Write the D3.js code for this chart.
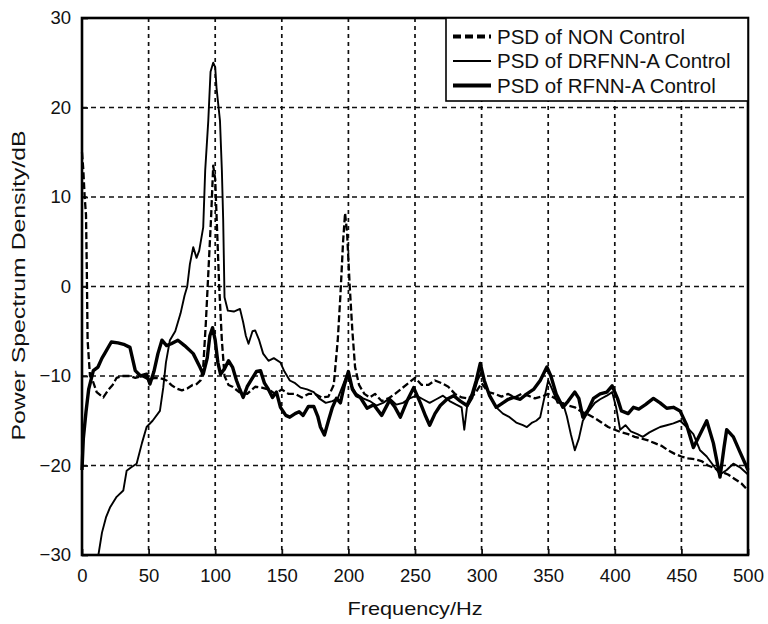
<!DOCTYPE html>
<html>
<head>
<meta charset="utf-8">
<script src="https://cdn.jsdelivr.net/npm/d3@7"></script>
<style>
	body { margin: 0; background: #fff; }
	text { font-family: "Liberation Sans", Arial, Helvetica, sans-serif; fill: #111; }
</style>
</head>
<body>
<div id="chart"></div>
<script>
// tick values
const xTicks = [0, 50, 100, 150, 200, 250, 300, 350, 400, 450, 500]
const yTicks = [-30, -20, -10, 0, 10, 20, 30]

// legend labels
const seriesNames = ['PSD of NON Control', 'PSD of DRFNN-A Control', 'PSD of RFNN-A Control']

// NON control (dashed)
const nonFreq = [0, 1, 2, 3, 3.6, 4.2, 6, 8, 11, 16, 20, 23, 26, 30, 36, 40, 45, 50, 55, 60, 63.5, 67, 71, 75, 79, 83, 86, 89, 91, 93, 95, 97, 98.5, 100, 101.5, 103, 105, 107, 110, 113, 118, 124, 130, 135, 140, 145, 150, 155, 160, 165, 170, 175, 180, 185, 189, 192, 194, 196, 197.5, 199, 201, 203, 205, 208, 212, 216, 220, 225, 230, 235, 240, 245, 250, 255, 260, 265, 270, 275, 280, 285, 290, 295, 300, 305, 310, 315, 320, 325, 330, 335, 340, 345, 350, 355, 360, 365, 370, 375, 380, 385, 390, 395, 400, 405, 410, 415, 420, 425, 430, 435, 440, 445, 450, 455, 460, 465, 470, 475, 480, 485, 490, 495, 500]
const nonPsd = [15, 13, 10, 8, 2, -6, -10, -10.5, -11.8, -12.4, -11.5, -11, -10.2, -10, -10, -10.2, -10, -10.4, -10.2, -10.3, -10.5, -11, -11.4, -11.6, -11.4, -11, -10.9, -10.5, -9, -4, 2, 8, 13.5, 12, 6, 0, -6, -10, -11, -11.2, -11.8, -12, -11.2, -11.3, -11.5, -12, -11.5, -12, -12, -12.4, -12, -12, -12.4, -12.3, -11, -6, -1, 5, 8.2, 6, 0, -5, -9, -11, -12, -12.4, -12, -12.8, -12.5, -12, -11.4, -10.8, -10.2, -11, -11, -10.5, -10.8, -11.2, -12, -12.4, -12.5, -12, -10.8, -11.8, -12, -12.3, -12, -12.4, -12, -12.2, -12.5, -12.3, -12, -12.5, -13, -13.3, -13.5, -14, -14.3, -14.7, -15.2, -15.7, -16, -16.3, -16.5, -16.8, -17, -17.2, -17.5, -17.8, -18.3, -18.7, -19, -19.2, -19.3, -19.5, -20, -20.3, -20.7, -21, -21.5, -22, -22.8]

// DRFNN-A control (thin)
const drfFreq = [12.3, 15, 18, 21, 26, 31, 33.5, 37, 41, 45, 48.5, 53, 58.5, 61, 63, 66, 70, 74, 77, 79, 81, 83.5, 86, 88, 91, 92.5, 94.8, 96.5, 98.5, 100, 101, 103.6, 105, 106, 107, 109.5, 114, 118.6, 121, 123, 125, 128, 130, 133, 136, 140, 144, 149, 152, 156, 160, 164, 169, 174, 178, 183, 188, 192, 196, 199, 202, 206, 211, 216, 221, 226, 231, 236, 241, 246, 251, 256, 261, 266, 271, 276, 281, 285, 287, 289, 293, 297, 300, 303, 307, 311, 316, 321, 326, 331, 334, 338, 341, 344, 347, 350, 353, 357, 361, 364, 367, 370, 373, 376, 380, 385, 389, 394, 398, 401, 404, 408, 412, 417, 421, 426, 430, 434, 439, 444, 449, 454, 459, 464, 469, 474, 479, 484, 489, 494, 500]
const drfPsd = [-30, -27.5, -25.8, -24.7, -23.5, -22.8, -20.6, -20.2, -19.8, -17.5, -15.7, -15, -13.9, -11.3, -8.5, -6, -5, -3, -1, 0, 2.5, 4.4, 3.2, 4, 6.6, 13, 18.5, 24, 25, 24.5, 22.2, 18.5, 13, 7.4, -1.2, -2.7, -2.8, -2.5, -4, -5.5, -6.4, -5, -4.9, -6, -7.5, -8.3, -8, -8.5, -9.5, -10.5, -10.8, -11.3, -11.5, -11.8, -12.5, -13, -12.8, -12.5, -11, -9.8, -11, -12, -12.5, -12.8, -13.3, -13, -12.5, -13.2, -13, -12.5, -12.2, -12.6, -13, -12.6, -12.2, -12.8, -13.2, -13.5, -16, -13.5, -12.5, -10.5, -9.5, -11, -12.5, -13.5, -14.2, -14.6, -15.2, -15.5, -15.7, -15.2, -15, -14.6, -12.5, -10.5, -11.5, -13, -13, -14.5, -16.5, -18.3, -17, -15, -14, -13, -12.6, -12.2, -11.8, -13.5, -16, -15.5, -16.2, -16.5, -16.8, -16.3, -16, -15.7, -15.5, -15.3, -15, -15.7, -16.5, -18.3, -19, -20, -21, -20.5, -19.8, -20.2, -21]

// RFNN-A control (thick)
const rfFreq = [0, 1, 3, 5, 8.5, 12, 15, 17, 22, 27, 32, 36, 40, 44, 48.5, 51, 54, 57, 60, 63.5, 67, 72, 77, 83.5, 88.5, 91, 94, 96, 98, 100, 102, 104, 107, 110, 113, 116, 118, 121, 124, 128, 131, 134, 137, 140, 143, 146, 149, 153, 156, 160, 163, 166, 170, 174, 177, 179, 182, 185, 188, 191, 194, 197, 200, 203, 206, 209, 214, 219, 225, 231, 235, 239, 244, 249, 254, 258, 261, 265, 269, 274, 279, 284, 289, 293, 296, 299, 302, 306, 311, 316, 320, 324, 329, 334, 339, 344, 349, 352, 356, 361, 365, 370, 373, 376, 380, 384, 389, 394, 398, 402, 405, 410, 414, 418, 423, 429, 434, 439, 444, 449, 454, 459, 464, 469, 474, 479, 482, 484, 489, 494, 500]
const rfPsd = [-20.5, -17, -14, -11.5, -9.4, -9, -8, -7.5, -6.2, -6.3, -6.5, -6.8, -9.4, -10, -9.8, -10.9, -9.5, -7.5, -6, -6.6, -6.4, -6, -6.6, -7.5, -9, -9.8, -8, -5.5, -4.6, -6, -8.5, -9.8, -9.2, -8.3, -9, -10.5, -11.3, -12.4, -11.2, -10.2, -9.5, -9.4, -10.8, -11.5, -12.4, -11.8, -13.5, -14.4, -14.6, -14.2, -14, -14.4, -13.4, -13.4, -14.5, -15.7, -16.6, -15, -13.5, -12.5, -13, -11, -9.5, -11.5, -12.2, -12.4, -13.6, -13.2, -14.4, -12.7, -13.5, -14.6, -12.8, -11.3, -13, -14.5, -15.5, -14.2, -13.3, -12.6, -12.2, -12.8, -13.3, -12, -10.5, -8.6, -10.5, -12.2, -13.5, -13, -12.6, -12.4, -12.6, -12, -11.5, -10.5, -9, -10, -12, -13.5, -12.8, -11.8, -12.5, -14.6, -13.8, -12.5, -12, -11.8, -11.1, -12.5, -13.9, -14.2, -13.5, -13.7, -13.2, -12.5, -13, -13.6, -13.5, -13.9, -15.5, -18, -16.5, -15, -17.5, -21.3, -18, -16, -16.8, -18.5, -20.5]

const W = 768, H = 624
const margin = { top: 18, right: 20, bottom: 69, left: 82 }
const pw = W - margin.left - margin.right
const ph = H - margin.top - margin.bottom

let svg = d3.select('#chart').append('svg')
	.attr('width', W)
	.attr('height', H)

let g = svg.append('g').attr('transform', `translate(${margin.left},${margin.top})`)

let x = d3.scaleLinear().domain([0, 500]).range([0, pw])
let y = d3.scaleLinear().domain([-30, 30]).range([ph, 0])

//dashed grid
g.append('g').selectAll('line')
	.data(xTicks.slice(1, -1))
	.join('line')
	.attr('x1', d => x(d)).attr('x2', d => x(d))
	.attr('y1', 0).attr('y2', ph)
	.attr('stroke', '#111').attr('stroke-width', 1.7)
	.attr('stroke-dasharray', '4,4')

g.append('g').selectAll('line')
	.data(yTicks.slice(1, -1))
	.join('line')
	.attr('x1', 0).attr('x2', pw)
	.attr('y1', d => y(d)).attr('y2', d => y(d))
	.attr('stroke', '#111').attr('stroke-width', 1.7)
	.attr('stroke-dasharray', '5,4')

//axes with inward ticks
let xAxis = g.append('g').attr('transform', `translate(0,${ph})`)
	.call(d3.axisBottom(x).tickValues(xTicks).tickSizeInner(-6).tickSizeOuter(0).tickPadding(14))
let yAxis = g.append('g')
	.call(d3.axisLeft(y).tickValues(yTicks).tickSizeInner(-6).tickSizeOuter(0).tickPadding(11))

;[xAxis, yAxis].forEach(a => {
	a.select('.domain').remove()
	a.selectAll('.tick line').attr('stroke', '#111').attr('stroke-width', 1.8)
	a.selectAll('.tick text').attr('font-size', 18.5).attr('fill', '#111')
		.style('font-family', '"Liberation Sans", Arial, sans-serif')
})

//lines
let series = [
	{ name: seriesNames[0], f: nonFreq, v: nonPsd, width: 2.3, dash: '7,3' },
	{ name: seriesNames[1], f: drfFreq, v: drfPsd, width: 1.9, dash: null },
	{ name: seriesNames[2], f: rfFreq, v: rfPsd, width: 3.4, dash: null }
]

let line = d3.line()
	.x(d => x(d[0]))
	.y(d => y(d[1]))

g.append('g').selectAll('path')
	.data(series)
	.join('path')
	.attr('d', s => line(d3.zip(s.f, s.v)))
	.attr('fill', 'none')
	.attr('stroke', '#000')
	.attr('stroke-width', s => s.width)
	.attr('stroke-dasharray', s => s.dash)
	.attr('stroke-linejoin', 'round')

//frame
g.append('rect')
	.attr('width', pw).attr('height', ph)
	.attr('fill', 'none').attr('stroke', '#000').attr('stroke-width', 2.6)

//legend
let lg = g.append('g').attr('transform', `translate(${pw - 302},0)`)
lg.append('rect')
	.attr('width', 302).attr('height', 83)
	.attr('fill', '#fff').attr('stroke', '#000').attr('stroke-width', 1.6)

let items = lg.selectAll('.item')
	.data(series)
	.join('g')
	.attr('class', 'item')
	.attr('transform', (d, i) => `translate(0,${18.5 + i * 24.5})`)

items.append('line')
	.attr('x1', 7).attr('x2', 45)
	.attr('stroke', '#000')
	.attr('stroke-width', (d, i) => i == 1 ? 2.2 : 3.8)
	.attr('stroke-dasharray', (d, i) => i == 0 ? '8,4' : null)

items.append('text')
	.attr('x', 51).attr('dy', '0.36em')
	.attr('font-size', 20.5)
	.text(d => d.name)

//axis titles
svg.append('text')
	.attr('x', margin.left + pw / 2).attr('y', 615)
	.attr('text-anchor', 'middle').attr('font-size', 19)
	.attr('textLength', 135).attr('lengthAdjust', 'spacingAndGlyphs')
	.text('Frequency/Hz')

svg.append('text')
	.attr('transform', `translate(25,${margin.top + ph / 2 - 1}) rotate(-90)`)
	.attr('text-anchor', 'middle').attr('font-size', 19)
	.attr('textLength', 310).attr('lengthAdjust', 'spacingAndGlyphs')
	.text('Power Spectrum Density/dB')
</script>
</body>
</html>
